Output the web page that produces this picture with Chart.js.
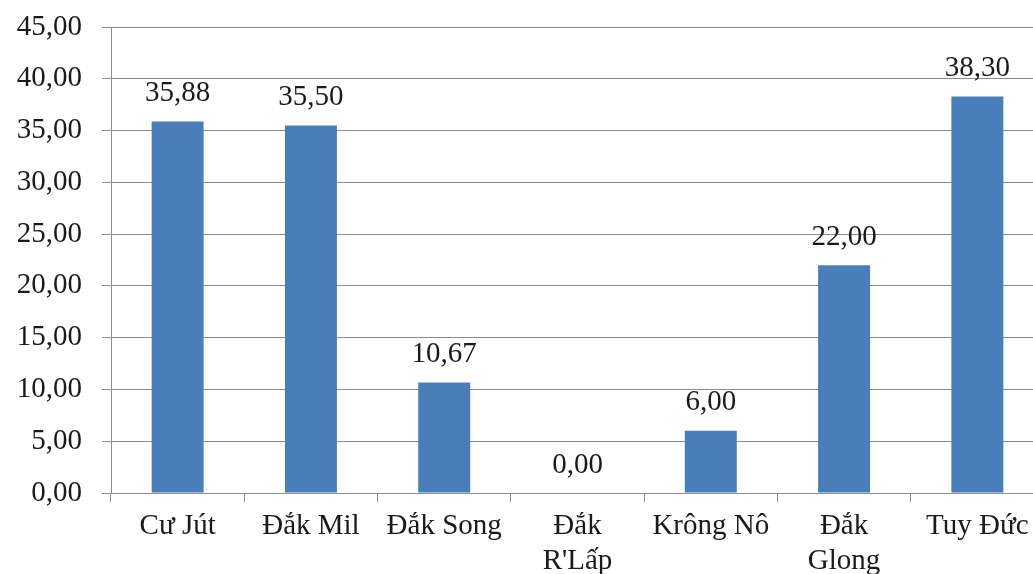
<!DOCTYPE html>
<html>
<head>
<meta charset="utf-8">
<script src="https://cdn.jsdelivr.net/npm/chart.js@4.4.1/dist/chart.umd.min.js"></script>
<style>
  html, body { margin: 0; padding: 0; background: #ffffff; overflow: hidden; width: 1033px; height: 574px; }
  canvas { display: block; }
</style>
</head>
<body>
<canvas id="c" width="1050" height="574"></canvas>
<script>
const categories = ["Cư Jút", "Đắk Mil", "Đắk Song", ["Đắk", "R'Lấp"], "Krông Nô", ["Đắk", "Glong"], "Tuy Đức"];
const values = [35.88, 35.50, 10.67, 0.00, 6.00, 22.00, 38.30];
const yMin = 0;
const yMax = 45;
const yStep = 5;

const fmt = v => Number(v).toFixed(2).replace('.', ',');
const FONT = "'Liberation Serif', 'Times New Roman', serif";
const GRID = '#8c8c8c';

const dataLabels = {
  id: 'dataLabels',
  afterDatasetsDraw(chart) {
    const ctx = chart.ctx;
    const meta = chart.getDatasetMeta(0);
    ctx.save();
    ctx.font = '29px ' + FONT;
    ctx.fillStyle = '#1a1a1a';
    ctx.textAlign = 'center';
    ctx.textBaseline = 'middle';
    meta.data.forEach((bar, i) => {
      ctx.fillText(fmt(values[i]), bar.x, bar.y - 28);
    });
    ctx.restore();
  }
};

new Chart(document.getElementById('c'), {
  type: 'bar',
  data: {
    labels: categories,
    datasets: [{
      data: values,
      backgroundColor: '#4a7ebb',
      borderWidth: 0,
      barPercentage: 0.39,
      categoryPercentage: 1.0
    }]
  },
  options: {
    responsive: false,
    maintainAspectRatio: false,
    animation: false,
    layout: { padding: { top: 27, right: 6, left: 0, bottom: 0 } },
    plugins: { legend: { display: false }, tooltip: { enabled: false } },
    scales: {
      x: {
        grid: { display: true, drawOnChartArea: false, drawTicks: true, tickLength: 9, color: GRID, offset: true },
        border: { display: true, color: GRID, width: 1 },
        ticks: { color: '#1a1a1a', font: { family: FONT, size: 29, lineHeight: 1.2 }, padding: 7, maxRotation: 0, autoSkip: false },
        afterFit(s) { s.height = 81; }
      },
      y: {
        min: yMin, max: yMax,
        grid: { color: GRID, tickLength: 9, drawTicks: true },
        border: { display: true, color: GRID, width: 1 },
        ticks: { stepSize: yStep, color: '#1a1a1a', font: { family: FONT, size: 29 }, padding: 20, callback: v => fmt(v) },
        afterFit(s) { s.width = 111; s.paddingTop = 0; s.paddingBottom = 0; }
      }
    }
  },
  plugins: [dataLabels]
});
</script>
</body>
</html>
